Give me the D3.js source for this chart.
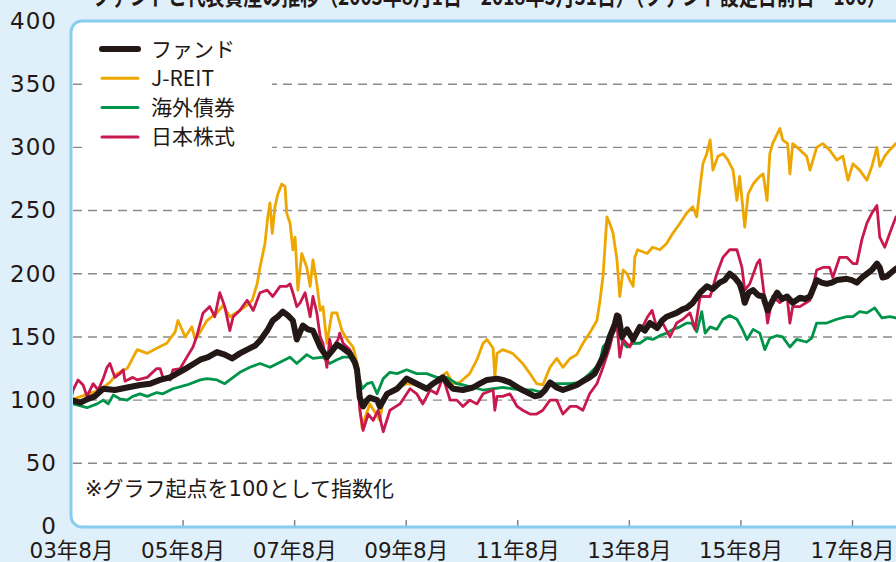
<!DOCTYPE html>
<html><head><meta charset="utf-8">
<script src="https://cdn.jsdelivr.net/npm/d3@7"></script>
<style>
html,body{margin:0;padding:0;background:#dff0fa;overflow:hidden}
svg{display:block}
</style></head>
<body>
<svg id="chart" width="896" height="562"></svg>
<script>
// ---------- data (decimal year, index value; start = 100) ----------
const seriesNames = ["ファンド", "J-REIT", "海外債券", "日本株式"];
const xTickYears = [2003.583, 2005.583, 2007.583, 2009.583, 2011.583, 2013.583, 2015.583, 2017.583];
const xTickLabels = ["03年8月", "05年8月", "07年8月", "09年8月", "11年8月", "13年8月", "15年8月", "17年8月"];
const yTickValues = [0, 50, 100, 150, 200, 250, 300, 350, 400];
const gridValues = [50, 100, 150, 200, 250, 300, 350];
const titleText = "ファンドと代表資産の推移（2003年8月1日〜2018年5月31日）（ファンド設定日前日＝100）";
const noteText = "※グラフ起点を100として指数化";

const fund = [[2003.58,100],[2003.75,98],[2003.89,101],[2004.01,103],[2004.16,109],[2004.37,108],[2004.59,110],[2004.82,112],[2005.00,113],[2005.18,116],[2005.36,118],[2005.48,121],[2005.68,126],[2005.90,132],[2006.04,134],[2006.20,138],[2006.34,136],[2006.47,133],[2006.61,137],[2006.74,140],[2006.88,143],[2006.97,147],[2007.10,155],[2007.20,163],[2007.29,166],[2007.38,170],[2007.47,167],[2007.56,163],[2007.63,148],[2007.74,159],[2007.83,156],[2007.92,155],[2008.05,142],[2008.17,134],[2008.28,140],[2008.35,144],[2008.46,141],[2008.58,137],[2008.67,130],[2008.71,124],[2008.76,102],[2008.82,95],[2008.89,100],[2008.94,102],[2009.07,100],[2009.12,95],[2009.25,105],[2009.43,109],[2009.60,117],[2009.69,115],[2009.78,113],[2009.96,109],[2010.07,113],[2010.25,118],[2010.34,113],[2010.43,109],[2010.61,108],[2010.79,110],[2010.91,113],[2011.04,116],[2011.22,117],[2011.32,116],[2011.45,114],[2011.63,109],[2011.81,105],[2011.90,103],[2011.99,104],[2012.08,108],[2012.17,114],[2012.29,110],[2012.40,108],[2012.53,110],[2012.65,112],[2012.76,115],[2012.88,118],[2012.97,121],[2013.06,129],[2013.15,137],[2013.24,150],[2013.33,160],[2013.37,167],[2013.40,166],[2013.46,150],[2013.55,156],[2013.66,148],[2013.78,158],[2013.87,155],[2013.96,161],[2014.09,157],[2014.18,163],[2014.26,166],[2014.44,169],[2014.55,172],[2014.62,173],[2014.73,177],[2014.86,185],[2014.98,190],[2015.09,188],[2015.21,193],[2015.30,195],[2015.39,200],[2015.48,197],[2015.57,192],[2015.62,185],[2015.66,177],[2015.73,185],[2015.81,187],[2015.90,183],[2015.99,182],[2016.07,171],[2016.15,178],[2016.24,185],[2016.33,180],[2016.42,182],[2016.52,177],[2016.65,181],[2016.74,180],[2016.83,182],[2016.95,195],[2017.04,193],[2017.13,192],[2017.22,193],[2017.31,195],[2017.49,196],[2017.58,195],[2017.67,193],[2017.76,197],[2017.85,200],[2017.94,203],[2018.03,208],[2018.08,205],[2018.13,197],[2018.21,198],[2018.26,200],[2018.37,204]];

const jreit = [[2003.58,100],[2003.83,104],[2004.10,108],[2004.28,114],[2004.41,121],[2004.59,125],[2004.77,140],[2004.95,137],[2005.12,141],[2005.30,145],[2005.45,154],[2005.50,163],[2005.63,150],[2005.75,158],[2005.81,148],[2005.90,154],[2006.02,163],[2006.20,169],[2006.31,175],[2006.43,166],[2006.61,171],[2006.74,175],[2006.83,179],[2006.92,192],[2006.97,205],[2007.06,224],[2007.11,245],[2007.15,256],[2007.19,232],[2007.24,253],[2007.29,263],[2007.36,271],[2007.42,269],[2007.45,248],[2007.51,240],[2007.56,219],[2007.60,229],[2007.65,187],[2007.72,216],[2007.81,205],[2007.87,190],[2007.92,211],[2007.99,192],[2008.05,171],[2008.10,174],[2008.17,145],[2008.26,169],[2008.35,169],[2008.44,155],[2008.53,148],[2008.64,142],[2008.73,126],[2008.76,95],[2008.80,78],[2008.82,82],[2008.94,97],[2009.12,84],[2009.18,100],[2009.35,108],[2009.60,113],[2009.78,112],[2009.96,108],[2010.20,118],[2010.32,122],[2010.43,113],[2010.55,114],[2010.73,121],[2010.86,132],[2010.97,145],[2011.04,148],[2011.15,141],[2011.18,118],[2011.22,137],[2011.32,140],[2011.50,137],[2011.68,129],[2011.81,121],[2011.93,113],[2012.04,112],[2012.17,126],[2012.29,133],[2012.40,126],[2012.53,133],[2012.65,136],[2012.76,145],[2012.88,153],[2013.01,163],[2013.06,177],[2013.12,198],[2013.19,245],[2013.24,240],[2013.30,232],[2013.37,211],[2013.42,182],[2013.48,203],[2013.55,200],[2013.60,195],[2013.66,190],[2013.69,213],[2013.74,219],[2013.91,216],[2014.01,221],[2014.14,219],[2014.26,224],[2014.37,232],[2014.50,240],[2014.62,248],[2014.73,253],[2014.80,245],[2014.86,269],[2014.91,287],[2014.98,295],[2015.04,306],[2015.09,282],[2015.18,293],[2015.27,295],[2015.36,290],[2015.45,282],[2015.52,258],[2015.57,277],[2015.66,237],[2015.72,263],[2015.81,271],[2015.93,277],[2015.99,279],[2016.06,258],[2016.11,295],[2016.16,303],[2016.29,315],[2016.34,306],[2016.43,303],[2016.47,279],[2016.52,303],[2016.65,298],[2016.77,293],[2016.83,282],[2016.95,300],[2017.06,303],[2017.18,298],[2017.31,290],[2017.42,293],[2017.51,274],[2017.60,287],[2017.72,282],[2017.85,274],[2017.94,285],[2018.03,300],[2018.08,285],[2018.17,293],[2018.26,298],[2018.37,303]];

const bonds = [[2003.58,100],[2003.62,97],[2003.87,94],[2004.05,97],[2004.16,100],[2004.25,97],[2004.34,104],[2004.46,101],[2004.59,100],[2004.69,103],[2004.82,105],[2004.95,103],[2005.12,106],[2005.23,105],[2005.41,109],[2005.66,112],[2005.90,116],[2006.02,117],[2006.20,116],[2006.34,113],[2006.43,116],[2006.61,122],[2006.79,126],[2006.97,129],[2007.15,126],[2007.33,130],[2007.51,134],[2007.63,129],[2007.81,136],[2007.92,133],[2008.10,134],[2008.22,129],[2008.35,132],[2008.46,134],[2008.58,134],[2008.71,126],[2008.80,109],[2008.89,113],[2008.98,114],[2009.07,105],[2009.18,117],[2009.30,122],[2009.43,121],[2009.60,124],[2009.78,121],[2009.96,121],[2010.14,118],[2010.32,118],[2010.50,113],[2010.61,112],[2010.79,110],[2010.97,108],[2011.15,109],[2011.32,110],[2011.50,109],[2011.68,108],[2011.86,108],[2012.04,106],[2012.17,113],[2012.35,113],[2012.53,113],[2012.70,114],[2012.88,121],[2013.06,129],[2013.12,142],[2013.24,148],[2013.37,158],[2013.48,145],[2013.55,142],[2013.66,145],[2013.78,145],[2013.91,149],[2014.01,148],[2014.14,151],[2014.26,153],[2014.37,156],[2014.50,158],[2014.62,161],[2014.71,161],[2014.80,154],[2014.89,170],[2014.95,153],[2015.04,158],[2015.16,156],[2015.27,164],[2015.39,167],[2015.52,164],[2015.62,156],[2015.70,148],[2015.81,156],[2015.93,153],[2016.02,140],[2016.11,149],[2016.24,151],[2016.34,150],[2016.47,142],[2016.59,148],[2016.77,146],[2016.86,149],[2016.95,161],[2017.13,161],[2017.31,164],[2017.49,166],[2017.60,166],[2017.72,170],[2017.85,169],[2017.99,173],[2018.12,165],[2018.26,166],[2018.37,165]];

const stocks = [[2003.58,100],[2003.62,108],[2003.71,116],[2003.80,112],[2003.87,103],[2003.98,113],[2004.07,108],[2004.16,117],[2004.23,126],[2004.28,129],[2004.37,118],[2004.46,121],[2004.52,124],[2004.55,115],[2004.69,118],[2004.77,116],[2004.95,118],[2005.12,125],[2005.18,125],[2005.23,118],[2005.30,118],[2005.36,116],[2005.41,124],[2005.54,125],[2005.66,134],[2005.77,142],[2005.84,151],[2005.95,169],[2006.07,174],[2006.16,166],[2006.25,185],[2006.34,174],[2006.43,155],[2006.49,166],[2006.61,171],[2006.74,179],[2006.85,171],[2006.97,185],[2007.10,187],[2007.20,182],[2007.33,190],[2007.45,190],[2007.51,192],[2007.56,185],[2007.63,174],[2007.69,177],[2007.78,185],[2007.87,166],[2007.92,182],[2007.99,169],[2008.05,150],[2008.10,145],[2008.17,126],[2008.22,148],[2008.26,140],[2008.37,148],[2008.40,153],[2008.46,145],[2008.58,140],[2008.71,126],[2008.76,92],[2008.82,76],[2008.91,89],[2009.00,84],[2009.09,92],[2009.18,75],[2009.30,92],[2009.48,97],[2009.66,109],[2009.78,105],[2009.89,97],[2010.02,108],[2010.14,105],[2010.25,118],[2010.38,100],[2010.50,100],[2010.61,95],[2010.73,100],[2010.86,97],[2010.97,105],[2011.15,108],[2011.18,92],[2011.22,103],[2011.32,103],[2011.45,105],[2011.58,95],[2011.68,92],[2011.81,89],[2011.93,89],[2012.04,92],[2012.17,100],[2012.29,100],[2012.40,89],[2012.53,95],[2012.65,95],[2012.76,92],[2012.88,105],[2013.01,113],[2013.12,126],[2013.24,142],[2013.30,153],[2013.37,160],[2013.42,134],[2013.48,148],[2013.60,142],[2013.73,156],[2013.83,158],[2013.92,166],[2014.00,171],[2014.09,156],[2014.19,161],[2014.32,150],[2014.44,161],[2014.55,164],[2014.68,169],[2014.77,156],[2014.86,182],[2014.91,182],[2015.04,182],[2015.16,200],[2015.27,213],[2015.39,219],[2015.52,219],[2015.61,205],[2015.66,187],[2015.75,192],[2015.88,208],[2015.93,211],[2015.99,190],[2016.07,161],[2016.16,182],[2016.29,177],[2016.42,182],[2016.47,161],[2016.52,174],[2016.65,174],[2016.83,179],[2016.95,203],[2017.06,205],[2017.18,205],[2017.24,197],[2017.36,213],[2017.49,213],[2017.60,208],[2017.67,208],[2017.76,227],[2017.85,240],[2017.94,248],[2018.03,254],[2018.08,229],[2018.17,221],[2018.26,232],[2018.37,245]];

// ---------- layout ----------
const W = 896, H = 562;
const L = 71, T = 21, B = 527, R = 896;
const colors = {fund: "#231815", jreit: "#eea600", bonds: "#00944a", stocks: "#c8194f"};
const textColor = "#231815";
const numFont = "'DejaVu Sans', 'Noto Sans CJK JP', sans-serif";
const jpFont = "'Noto Sans CJK JP', sans-serif";

const svg = d3.select("#chart");
const x = d3.scaleLinear().domain([2003.583, 2017.583]).range([L, 852]);
const y = d3.scaleLinear().domain([0, 400]).range([526.5, 21]);

// title (cut off at top, like the reference)
svg.append("text").attr("x", 92).attr("y", 5)
  .attr("font-family", jpFont).attr("font-size", 24).attr("font-weight", 700)
  .attr("fill", textColor).attr("textLength", 794).attr("lengthAdjust", "spacingAndGlyphs")
  .text(titleText);

// plot panel with rounded left corners
const rr = 11;
const panel = `M${R + 20},${T} H${L + rr} A${rr},${rr} 0 0 0 ${L},${T + rr} V${B - rr} A${rr},${rr} 0 0 0 ${L + rr},${B} H${R + 20}`;
svg.append("path").attr("d", panel + " Z").attr("fill", "#ffffff");

// grid
svg.append("g").selectAll("line").data(gridValues).join("line")
  .attr("x1", L + 2).attr("x2", R).attr("y1", d => y(d)).attr("y2", d => y(d))
  .attr("stroke", "#8a8a8a").attr("stroke-width", 1.4).attr("stroke-dasharray", "9,6");

// x ticks (inside) and labels
const xAxis = d3.axisBottom(x).tickValues(xTickYears)
  .tickFormat((d, i) => xTickLabels[i]).tickSizeInner(-7).tickSizeOuter(0).tickPadding(16);
const gx = svg.append("g").attr("transform", `translate(0,${B})`).call(xAxis);
gx.select(".domain").remove();
gx.selectAll(".tick line").attr("stroke", "#7d7d7d").attr("stroke-width", 1.4)
  .filter((d, i) => i === 0).remove();
gx.selectAll(".tick text").attr("fill", textColor).attr("font-family", numFont).attr("font-size", 21.5);

// y labels
const yAxis = d3.axisLeft(y).tickValues(yTickValues).tickSize(0).tickPadding(14);
const gy = svg.append("g").attr("transform", `translate(${L},0)`).call(yAxis);
gy.select(".domain").remove();
gy.selectAll(".tick text").attr("fill", textColor).attr("font-family", numFont)
  .attr("font-size", 23).attr("letter-spacing", 1);

// lines
svg.append("clipPath").attr("id", "clip").append("rect")
  .attr("x", L + 2).attr("y", T + 2).attr("width", R - L).attr("height", B - T - 4);
const line = d3.line().x(d => x(d[0])).y(d => y(d[1])).curve(d3.curveLinear);
const lg = svg.append("g").attr("clip-path", "url(#clip)");
const drawOrder = [
  {data: jreit, color: colors.jreit, w: 2.8},
  {data: bonds, color: colors.bonds, w: 2.8},
  {data: stocks, color: colors.stocks, w: 2.8},
  {data: fund, color: colors.fund, w: 6}
];
drawOrder.forEach(s => {
  lg.append("path").datum(s.data).attr("d", line).attr("fill", "none")
    .attr("stroke", s.color).attr("stroke-width", s.w)
    .attr("stroke-linejoin", "round").attr("stroke-linecap", "round");
});

// panel border
svg.append("path").attr("d", panel).attr("fill", "none")
  .attr("stroke", "#86cdf0").attr("stroke-width", 3);

// legend
svg.append("rect").attr("x", 88).attr("y", 34).attr("width", 184).attr("height", 118).attr("fill", "#ffffff");
const legendItems = [
  {name: seriesNames[0], color: colors.fund, w: 6},
  {name: seriesNames[1], color: colors.jreit, w: 3},
  {name: seriesNames[2], color: colors.bonds, w: 3},
  {name: seriesNames[3], color: colors.stocks, w: 3}
];
const leg = svg.append("g");
legendItems.forEach((d, i) => {
  const cy = 49 + i * 29.3;
  leg.append("line").attr("x1", 102).attr("x2", 138).attr("y1", cy).attr("y2", cy)
    .attr("stroke", d.color).attr("stroke-width", d.w).attr("stroke-linecap", "round");
  leg.append("text").attr("x", 151).attr("y", cy).attr("dy", "0.36em")
    .attr("font-family", jpFont).attr("font-size", 21).attr("fill", textColor).text(d.name);
});

// note
svg.append("text").attr("x", 85).attr("y", 488).attr("dy", "0.36em")
  .attr("font-family", numFont).attr("font-size", 21).attr("fill", textColor).text(noteText);
</script>
</body></html>
